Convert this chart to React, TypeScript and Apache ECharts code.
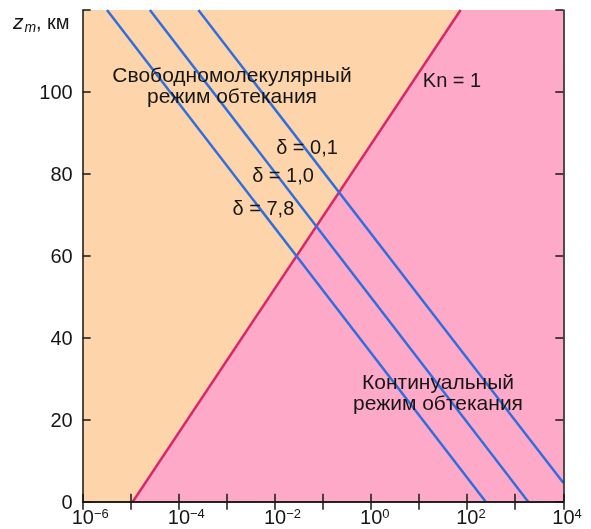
import React, { useEffect, useRef } from "react";
import * as echarts from "echarts";

// Axis ranges
const xMin = 1e-6;
const xMax = 1e4;
const yMin = 0;
const yMax = 120;

// Kn = 1 boundary line (x, z_m)
const knLine: [number, number][] = [
  [1.1e-5, 0],
  [73, 120],
];

// δ lines (x, z_m)
const delta78: [number, number][] = [
  [3.2e-6, 120],
  [243, 0],
];
const delta10: [number, number][] = [
  [2.5e-5, 120],
  [1860, 0],
];
const delta01: [number, number][] = [
  [2.55e-4, 120],
  [1e4, 4.6],
];

const FONT = "'Liberation Sans', Arial, Helvetica, sans-serif";
const ORANGE = "#FED5AA";
const PINK = "#FEA9C8";
const CRIMSON = "#D8286A";
const BLUE = "#2F6EDF";
const INK = "#161616";

export default function App() {
  const ref = useRef<HTMLDivElement>(null);

  useEffect(() => {
    if (!ref.current) return;
    const chart = echarts.init(ref.current, undefined, { renderer: "svg" });

    const axisLine = { show: true, lineStyle: { color: INK, width: 1.5 } };
    const axisTick = { show: true, inside: true, length: 8, lineStyle: { color: INK, width: 1.5 } };

    const xLabelFormatter = (v: number) => {
      const e = Math.round(Math.log10(v));
      if (e % 2 !== 0) return "";
      const s = e < 0 ? "\u2212" + Math.abs(e) : String(e);
      const pad = s.length > 1 ? "b2" : "b1";
      return `{${pad}|10}{sup|${s}}`;
    };

    const option: any = {
      animation: false,
      grid: {
        left: 82.7,
        right: 27.7,
        top: 10,
        bottom: 27.3,
        show: true,
        backgroundColor: ORANGE,
        borderWidth: 0,
      },
      xAxis: [
        {
          type: "log",
          logBase: 10,
          min: xMin,
          max: xMax,
          interval: 1,
          position: "bottom",
          z: 10,
          axisLine,
          axisTick,
          splitLine: { show: false },
          axisLabel: {
            margin: 5,
            formatter: xLabelFormatter,
            rich: {
              b1: { fontSize: 20, fontFamily: FONT, color: INK, lineHeight: 20, padding: [0, 0, 0, 7.5] },
              b2: { fontSize: 20, fontFamily: FONT, color: INK, lineHeight: 20, padding: [0, 0, 0, 15] },
              sup: { fontSize: 13, fontFamily: FONT, color: INK, lineHeight: 13, verticalAlign: "top" },
            },
          },
        },
        {
          type: "log",
          logBase: 10,
          min: xMin,
          max: xMax,
          interval: 1,
          position: "top",
          z: 10,
          axisLine,
          axisTick,
          splitLine: { show: false },
          axisLabel: { show: false },
        },
      ],
      yAxis: [
        {
          type: "value",
          min: yMin,
          max: yMax,
          interval: 20,
          position: "left",
          z: 10,
          axisLine,
          axisTick,
          splitLine: { show: false },
          axisLabel: {
            margin: 10,
            fontSize: 20,
            fontFamily: FONT,
            color: INK,
            formatter: (v: number) => (v === yMax ? "" : String(v)),
          },
        },
        {
          type: "value",
          min: yMin,
          max: yMax,
          interval: 20,
          position: "right",
          z: 10,
          axisLine,
          axisTick,
          splitLine: { show: false },
          axisLabel: { show: false },
        },
      ],
      series: [
        {
          name: "continuum",
          type: "line",
          data: [...knLine, [xMax, yMax]],
          symbol: "none",
          lineStyle: { width: 0 },
          areaStyle: { color: PINK, opacity: 1, origin: "start" },
          silent: true,
          z: 1,
        },
        {
          name: "Kn = 1",
          type: "line",
          data: knLine,
          symbol: "none",
          lineStyle: { color: CRIMSON, width: 2.5 },
          z: 3,
        },
        {
          name: "δ = 7,8",
          type: "line",
          data: delta78,
          symbol: "none",
          lineStyle: { color: BLUE, width: 2.5 },
          z: 3,
        },
        {
          name: "δ = 1,0",
          type: "line",
          data: delta10,
          symbol: "none",
          lineStyle: { color: BLUE, width: 2.5 },
          z: 3,
        },
        {
          name: "δ = 0,1",
          type: "line",
          data: delta01,
          symbol: "none",
          lineStyle: { color: BLUE, width: 2.5 },
          z: 3,
        },
      ],
      graphic: [
        {
          type: "text",
          x: 13,
          y: 21.5,
          style: { text: "z", font: `italic 21px ${FONT}`, fill: INK, textVerticalAlign: "middle" },
        },
        {
          type: "text",
          x: 24.5,
          y: 27,
          style: { text: "m", font: `italic 14px ${FONT}`, fill: INK, textVerticalAlign: "middle" },
        },
        {
          type: "text",
          x: 36,
          y: 21.5,
          style: { text: ", км", font: `20px ${FONT}`, fill: INK, textVerticalAlign: "middle" },
        },
        {
          type: "text",
          x: 232,
          y: 84.5,
          z: 20,
          style: {
            text: "Свободномолекулярный\nрежим обтекания",
            font: `21px ${FONT}`,
            lineHeight: 21,
            fill: INK,
            textAlign: "center",
            textVerticalAlign: "middle",
          },
        },
        {
          type: "text",
          x: 438,
          y: 392,
          z: 20,
          style: {
            text: "Континуальный\nрежим обтекания",
            font: `21px ${FONT}`,
            lineHeight: 21,
            fill: INK,
            textAlign: "center",
            textVerticalAlign: "middle",
          },
        },
        {
          type: "text",
          x: 452,
          y: 80,
          z: 20,
          style: { text: "Kn = 1", font: `20px ${FONT}`, fill: INK, textAlign: "center", textVerticalAlign: "middle" },
        },
        {
          type: "text",
          x: 307,
          y: 146.7,
          z: 20,
          style: { text: "δ = 0,1", font: `20px ${FONT}`, fill: INK, textAlign: "center", textVerticalAlign: "middle" },
        },
        {
          type: "text",
          x: 283,
          y: 175,
          z: 20,
          style: { text: "δ = 1,0", font: `20px ${FONT}`, fill: INK, textAlign: "center", textVerticalAlign: "middle" },
        },
        {
          type: "text",
          x: 263.4,
          y: 208.3,
          z: 20,
          style: { text: "δ = 7,8", font: `20px ${FONT}`, fill: INK, textAlign: "center", textVerticalAlign: "middle" },
        },
      ],
    };

    chart.setOption(option);
    return () => chart.dispose();
  }, []);

  return (
    <div
      ref={ref}
      style={{ position: "fixed", left: 0, top: 0, width: 591, height: 529 }}
    />
  );
}
